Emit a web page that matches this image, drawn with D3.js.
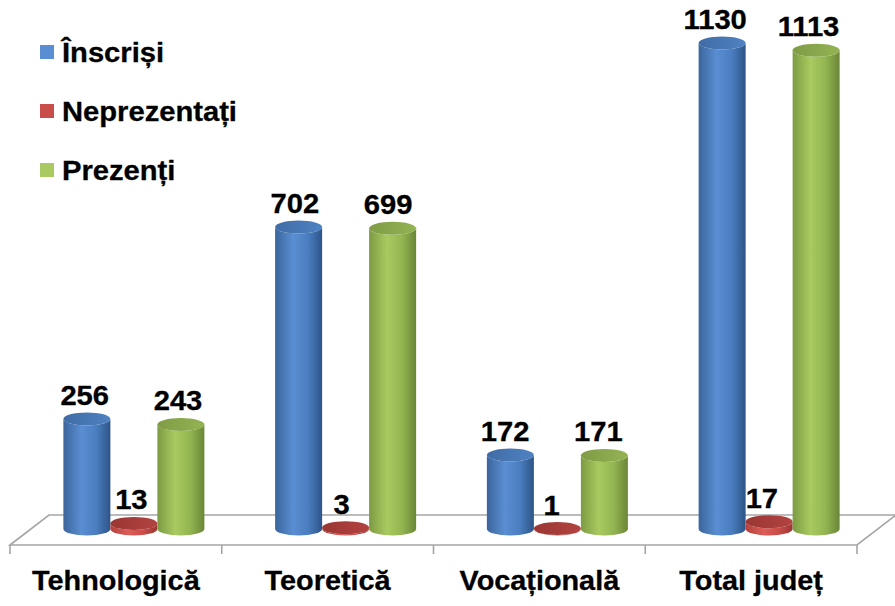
<!DOCTYPE html>
<html>
<head>
<meta charset="utf-8">
<script src="https://cdn.jsdelivr.net/npm/d3@7"></script>
<style>
  html, body { margin: 0; padding: 0; background: #fff; }
  svg { display: block; }
</style>
</head>
<body>
<svg id="chart" width="895" height="606"></svg>
<script>
const categories = ["Tehnologică", "Teoretică", "Vocațională", "Total județ"];
const seriesNames = ["Înscriși", "Neprezentați", "Prezenți"];
const inscrisi = [256, 702, 172, 1130];
const neprezentati = [13, 3, 1, 17];
const prezenti = [243, 699, 171, 1113];

const seriesValues = [inscrisi, neprezentati, prezenti];

// colours per series: body gradient stops + top face
const palette = [
  { stops: ["#3a659c", "#5a8ed2", "#4a7ec0", "#2d5487"], top: ["#3f6ca6", "#4f82c2"] },
  { stops: ["#b3403d", "#dc5c58", "#c94d49", "#9c3532"], top: ["#9a3633", "#b24340"] },
  { stops: ["#7c9b43", "#a9ca60", "#93b551", "#6a8637"], top: ["#7f9c45", "#93b353"] },
];

const FONT = '"Liberation Sans", Arial, Helvetica, sans-serif';
const FLOOR_FRONT_Y = 545;
const DEPTH_X = 39, DEPTH_Y = 30;
const BASE_Y = 529;  // center of cylinder bottom ellipse
const RY = 6.5;

const svg = d3.select("#chart");
const defs = svg.append("defs");

palette.forEach((p, i) => {
  const g = defs.append("linearGradient").attr("id", "body" + i)
    .attr("x1", 0).attr("x2", 1).attr("y1", 0).attr("y2", 0);
  [0, 0.38, 0.7, 1].forEach((o, k) => g.append("stop").attr("offset", o).attr("stop-color", p.stops[k]));
  const t = defs.append("linearGradient").attr("id", "top" + i)
    .attr("x1", 0).attr("x2", 1).attr("y1", 0).attr("y2", 0);
  t.append("stop").attr("offset", 0).attr("stop-color", p.top[0]);
  t.append("stop").attr("offset", 1).attr("stop-color", p.top[1]);
});

// scales
const xFront = d3.scaleBand().domain(categories).range([10, 857]).padding(0);
const xInner = d3.scaleBand().domain(seriesNames).range([-70.5, 70.5]).padding(0);
const y = d3.scaleLinear().domain([0, 1130]).range([BASE_Y, 43]);

// floor
const x0 = xFront.range()[0], x1 = xFront.range()[1];
const floor = svg.append("g").attr("stroke", "#a6a6a6").attr("stroke-width", 1.6).attr("fill", "none");
floor.append("path")
  .attr("d", `M${x0},${FLOOR_FRONT_Y} L${x0 + DEPTH_X},${FLOOR_FRONT_Y - DEPTH_Y} L${x1 + DEPTH_X},${FLOOR_FRONT_Y - DEPTH_Y} L${x1},${FLOOR_FRONT_Y} Z`);
const tickXs = categories.map(c => xFront(c)).concat([x1]);
floor.selectAll("line.tick").data(tickXs).join("line")
  .attr("x1", d => d).attr("x2", d => d)
  .attr("y1", FLOOR_FRONT_Y).attr("y2", FLOOR_FRONT_Y + 9);

// cylinders
const bars = [];
categories.forEach((c, ci) => {
  seriesNames.forEach((s, si) => {
    bars.push({ cat: c, series: s, si, value: seriesValues[si][ci] });
  });
});

const cx = d => xFront(d.cat) + xFront.bandwidth() / 2 + 18 + xInner(d.series) + xInner.bandwidth() / 2;
const rx = xInner.bandwidth() / 2;

const cyl = svg.append("g").selectAll("g").data(bars).join("g");

cyl.append("path")
  .attr("fill", d => `url(#body${d.si})`)
  .attr("d", d => {
    const c = cx(d), yt = y(d.value);
    return `M${c - rx},${yt} L${c - rx},${BASE_Y} A${rx},${RY} 0 0 0 ${c + rx},${BASE_Y} L${c + rx},${yt} A${rx},${RY} 0 0 1 ${c - rx},${yt} Z`;
  });

cyl.append("ellipse")
  .attr("cx", cx).attr("cy", d => y(d.value))
  .attr("rx", rx).attr("ry", RY)
  .attr("fill", d => `url(#top${d.si})`);

// text is a bit wider than the font in the original, so stretch it
function stretchedText(sel, sx) {
  sel.attr("transform", function () {
    const t = d3.select(this);
    return `translate(${t.attr("data-x")},${t.attr("data-y")}) scale(${sx},1)`;
  });
}

// value labels (sit a little left of the cylinder, perspective)
svg.append("g").selectAll("text").data(bars).join("text")
  .attr("data-x", d => cx(d) - 1.5 - 0.0075 * cx(d))
  .attr("data-y", d => y(d.value) - 14)
  .attr("text-anchor", "middle")
  .attr("font-family", FONT).attr("font-weight", 700).attr("font-size", 27)
  .attr("fill", "#000").attr("stroke", "#000").attr("stroke-width", 0.3)
  .text(d => d.value)
  .call(stretchedText, 1.08);

// category labels
svg.append("g").selectAll("text").data(categories).join("text")
  .attr("data-x", d => xFront(d) + xFront.bandwidth() / 2)
  .attr("data-y", 590)
  .attr("text-anchor", "middle")
  .attr("font-family", FONT).attr("font-weight", 700).attr("font-size", 28)
  .attr("fill", "#000").attr("stroke", "#000").attr("stroke-width", 0.3)
  .text(d => d)
  .call(stretchedText, 1.03);

// legend
const legend = svg.append("g").attr("transform", "translate(40,45)");
const li = legend.selectAll("g").data(seriesNames).join("g")
  .attr("transform", (d, i) => `translate(0,${i * 59})`);
li.append("rect").attr("width", 14).attr("height", 14)
  .attr("fill", (d, i) => palette[i].stops[1 + (i === 1 ? 1 : 0)]);
li.append("text")
  .attr("data-x", 22).attr("data-y", 17)
  .attr("font-family", FONT).attr("font-weight", 700).attr("font-size", 27)
  .attr("fill", "#000").attr("stroke", "#000").attr("stroke-width", 0.3)
  .text(d => d)
  .call(stretchedText, 1.08);
</script>
</body>
</html>
